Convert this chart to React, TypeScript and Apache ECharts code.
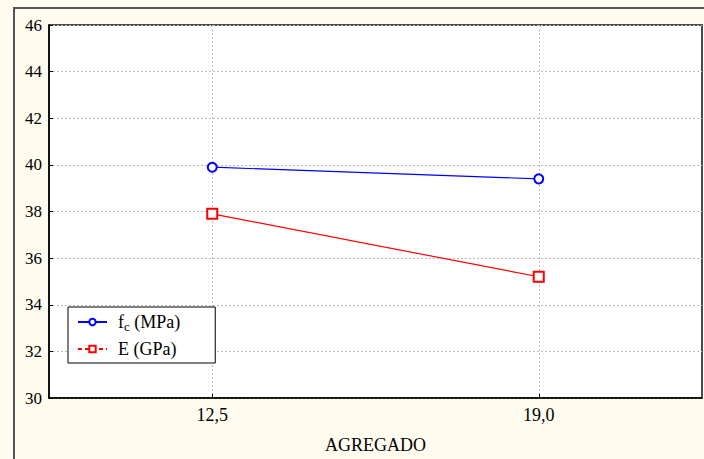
import React, { useEffect, useRef } from "react";
import * as echarts from "echarts";

const categories = ["12,5", "19,0"];
const fcValues = [39.9, 39.4];
const eValues = [37.9, 35.2];
const yTicks = { min: 30, max: 46, interval: 2 };
const seriesNames = ["fc (MPa)", "E (GPa)"];
const xName = "AGREGADO";

const FONT = "Liberation Serif";

export default function App() {
  const ref = useRef<HTMLDivElement>(null);
  useEffect(() => {
    document.body.style.margin = "0";
    const chart = echarts.init(ref.current!, null, { renderer: "svg" });
    chart.setOption({
      animation: false,
      backgroundColor: "#FFFCEF",
      textStyle: { fontFamily: FONT },
      graphic: [
        {
          type: "rect",
          shape: { x: 14, y: 8, width: 720, height: 480 },
          style: { fill: "none", stroke: "#555", lineWidth: 2 },
          silent: true,
        },
      ],
      grid: {
        left: 49,
        top: 25,
        right: 2,
        bottom: 59,
        show: true,
        backgroundColor: "#fff",
        borderColor: "#111",
        borderWidth: 1.5,
      },
      legend: {
        left: 68,
        top: 307,
        orient: "vertical",
        backgroundColor: "#fff",
        borderColor: "#000",
        borderWidth: 1,
        borderRadius: 0,
        padding: [6, 35, 5, 9],
        itemWidth: 29,
        itemHeight: 8,
        itemGap: 7,
        data: [
          { name: seriesNames[0] },
          { name: seriesNames[1], lineStyle: { type: [4, 3] } },
        ],
        formatter: (name: string) =>
          name === seriesNames[0] ? "{a0|f}{s|c}{a| (MPa)}" : "{a0|" + name + "}",
        textStyle: {
          fontFamily: FONT,
          color: "#000",
          fontSize: 18,
          rich: {
            a0: { fontFamily: FONT, fontSize: 18, color: "#000", lineHeight: 21, verticalAlign: "middle", padding: [0, 0, 0, 6] },
            a: { fontFamily: FONT, fontSize: 18, color: "#000", lineHeight: 21, verticalAlign: "middle" },
            s: { fontFamily: FONT, fontSize: 13, color: "#000", padding: [9, 0, 0, 0], verticalAlign: "bottom" },
          },
        },
      },
      xAxis: {
        type: "category",
        data: categories,
        name: xName,
        nameLocation: "middle",
        nameGap: 38,
        nameTextStyle: { fontFamily: FONT, fontSize: 18, color: "#000" },
        axisLine: { lineStyle: { color: "#000", width: 1.5 } },
        axisTick: { show: true, inside: true, alignWithLabel: true, length: 4, lineStyle: { color: "#000" } },
        axisLabel: { fontFamily: FONT, fontSize: 18, color: "#000", margin: 8 },
        splitLine: { show: true, alignWithLabel: true, lineStyle: { color: "#bbb", type: [2, 2], width: 1 } },
      },
      yAxis: {
        type: "value",
        min: yTicks.min,
        max: yTicks.max,
        interval: yTicks.interval,
        axisLine: { show: true, lineStyle: { color: "#000", width: 1.5 } },
        axisTick: { show: true, inside: true, length: 4, lineStyle: { color: "#000" } },
        axisLabel: { fontFamily: FONT, fontSize: 17, color: "#000", margin: 7 },
        splitLine: { show: true, lineStyle: { color: "#bbb", type: [2, 2], width: 1 } },
      },
      series: [
        {
          name: seriesNames[0],
          type: "line",
          data: fcValues,
          symbol: "emptyCircle",
          symbolSize: 9,
          lineStyle: { color: "#0000ff", width: 1.2 },
          itemStyle: { color: "#0000ff", borderWidth: 1.3 },
        },
        {
          name: seriesNames[1],
          type: "line",
          data: eValues,
          symbol: "emptyRect",
          symbolSize: 10,
          lineStyle: { color: "#ff0000", width: 1.2 },
          itemStyle: { color: "#ff0000", borderWidth: 1.3 },
        },
      ],
    });
    return () => chart.dispose();
  }, []);
  return <div ref={ref} style={{ width: 704, height: 459 }} />;
}
